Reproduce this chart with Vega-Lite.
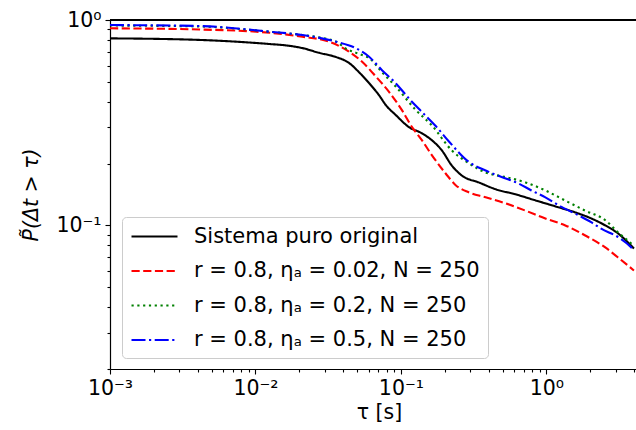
{
  "$schema": "https://vega.github.io/schema/vega-lite/v6.json",
  "width": 526,
  "height": 349,
  "autosize": "none",
  "padding": {"left": 110, "top": 20, "right": 0, "bottom": 61},
  "background": "white",
  "config": {
    "font": "DejaVu Sans",
    "view": {"stroke": null},
    "axis": {"grid": false, "domainColor": "black", "domainWidth": 1.2, "tickColor": "black", "tickWidth": 1.1, "labelColor": "black", "titleColor": "black", "labelFontSize": 20.5, "titleFontSize": 20.5, "titleFontWeight": "normal", "labelFont": "DejaVu Sans", "titleFont": "DejaVu Sans"}
  },
  "data": {"values": [
    {"s": "Sistema puro original", "tau": 0.001, "p": 0.814},
    {"s": "Sistema puro original", "tau": 0.0041, "p": 0.800},
    {"s": "Sistema puro original", "tau": 0.0125, "p": 0.764},
    {"s": "Sistema puro original", "tau": 0.0163, "p": 0.752},
    {"s": "Sistema puro original", "tau": 0.021, "p": 0.730},
    {"s": "Sistema puro original", "tau": 0.0274, "p": 0.692},
    {"s": "Sistema puro original", "tau": 0.0359, "p": 0.660},
    {"s": "Sistema puro original", "tau": 0.0441, "p": 0.617},
    {"s": "Sistema puro original", "tau": 0.0515, "p": 0.557},
    {"s": "Sistema puro original", "tau": 0.0604, "p": 0.493},
    {"s": "Sistema puro original", "tau": 0.0706, "p": 0.431},
    {"s": "Sistema puro original", "tau": 0.0788, "p": 0.385},
    {"s": "Sistema puro original", "tau": 0.0924, "p": 0.344},
    {"s": "Sistema puro original", "tau": 0.1135, "p": 0.301},
    {"s": "Sistema puro original", "tau": 0.1393, "p": 0.281},
    {"s": "Sistema puro original", "tau": 0.163, "p": 0.260},
    {"s": "Sistema puro original", "tau": 0.191, "p": 0.232},
    {"s": "Sistema puro original", "tau": 0.2234, "p": 0.196},
    {"s": "Sistema puro original", "tau": 0.2618, "p": 0.175},
    {"s": "Sistema puro original", "tau": 0.342, "p": 0.162},
    {"s": "Sistema puro original", "tau": 0.448, "p": 0.150},
    {"s": "Sistema puro original", "tau": 0.614, "p": 0.1417},
    {"s": "Sistema puro original", "tau": 0.841, "p": 0.1324},
    {"s": "Sistema puro original", "tau": 1.153, "p": 0.1238},
    {"s": "Sistema puro original", "tau": 1.58, "p": 0.1157},
    {"s": "Sistema puro original", "tau": 2.03, "p": 0.1082},
    {"s": "Sistema puro original", "tau": 2.54, "p": 0.100},
    {"s": "Sistema puro original", "tau": 3.11, "p": 0.0914},
    {"s": "Sistema puro original", "tau": 3.82, "p": 0.0798},
    {"s": "Sistema puro original", "tau": 4.0, "p": 0.0772},

    {"s": "r = 0.8, ηₐ = 0.02, N = 250", "tau": 0.001, "p": 0.911},
    {"s": "r = 0.8, ηₐ = 0.02, N = 250", "tau": 0.0041, "p": 0.899},
    {"s": "r = 0.8, ηₐ = 0.02, N = 250", "tau": 0.0125, "p": 0.867},
    {"s": "r = 0.8, ηₐ = 0.02, N = 250", "tau": 0.021, "p": 0.829},
    {"s": "r = 0.8, ηₐ = 0.02, N = 250", "tau": 0.0321, "p": 0.784},
    {"s": "r = 0.8, ηₐ = 0.02, N = 250", "tau": 0.0441, "p": 0.700},
    {"s": "r = 0.8, ηₐ = 0.02, N = 250", "tau": 0.0541, "p": 0.626},
    {"s": "r = 0.8, ηₐ = 0.02, N = 250", "tau": 0.0675, "p": 0.529},
    {"s": "r = 0.8, ηₐ = 0.02, N = 250", "tau": 0.0828, "p": 0.447},
    {"s": "r = 0.8, ηₐ = 0.02, N = 250", "tau": 0.1016, "p": 0.364},
    {"s": "r = 0.8, ηₐ = 0.02, N = 250", "tau": 0.1189, "p": 0.302},
    {"s": "r = 0.8, ηₐ = 0.02, N = 250", "tau": 0.1393, "p": 0.260},
    {"s": "r = 0.8, ηₐ = 0.02, N = 250", "tau": 0.163, "p": 0.220},
    {"s": "r = 0.8, ηₐ = 0.02, N = 250", "tau": 0.203, "p": 0.179},
    {"s": "r = 0.8, ηₐ = 0.02, N = 250", "tau": 0.238, "p": 0.157},
    {"s": "r = 0.8, ηₐ = 0.02, N = 250", "tau": 0.292, "p": 0.145},
    {"s": "r = 0.8, ηₐ = 0.02, N = 250", "tau": 0.382, "p": 0.137},
    {"s": "r = 0.8, ηₐ = 0.02, N = 250", "tau": 0.524, "p": 0.128},
    {"s": "r = 0.8, ηₐ = 0.02, N = 250", "tau": 0.718, "p": 0.118},
    {"s": "r = 0.8, ηₐ = 0.02, N = 250", "tau": 0.984, "p": 0.108},
    {"s": "r = 0.8, ηₐ = 0.02, N = 250", "tau": 1.35, "p": 0.100},
    {"s": "r = 0.8, ηₐ = 0.02, N = 250", "tau": 1.85, "p": 0.0893},
    {"s": "r = 0.8, ηₐ = 0.02, N = 250", "tau": 2.54, "p": 0.0781},
    {"s": "r = 0.8, ηₐ = 0.02, N = 250", "tau": 3.11, "p": 0.0698},
    {"s": "r = 0.8, ηₐ = 0.02, N = 250", "tau": 4.0, "p": 0.0603},

    {"s": "r = 0.8, ηₐ = 0.2, N = 250", "tau": 0.001, "p": 0.940},
    {"s": "r = 0.8, ηₐ = 0.2, N = 250", "tau": 0.0041, "p": 0.930},
    {"s": "r = 0.8, ηₐ = 0.2, N = 250", "tau": 0.0125, "p": 0.877},
    {"s": "r = 0.8, ηₐ = 0.2, N = 250", "tau": 0.021, "p": 0.845},
    {"s": "r = 0.8, ηₐ = 0.2, N = 250", "tau": 0.0359, "p": 0.784},
    {"s": "r = 0.8, ηₐ = 0.2, N = 250", "tau": 0.0413, "p": 0.730},
    {"s": "r = 0.8, ηₐ = 0.2, N = 250", "tau": 0.0541, "p": 0.675},
    {"s": "r = 0.8, ηₐ = 0.2, N = 250", "tau": 0.0604, "p": 0.653},
    {"s": "r = 0.8, ηₐ = 0.2, N = 250", "tau": 0.0741, "p": 0.557},
    {"s": "r = 0.8, ηₐ = 0.2, N = 250", "tau": 0.0924, "p": 0.473},
    {"s": "r = 0.8, ηₐ = 0.2, N = 250", "tau": 0.1268, "p": 0.364},
    {"s": "r = 0.8, ηₐ = 0.2, N = 250", "tau": 0.163, "p": 0.307},
    {"s": "r = 0.8, ηₐ = 0.2, N = 250", "tau": 0.2234, "p": 0.232},
    {"s": "r = 0.8, ηₐ = 0.2, N = 250", "tau": 0.292, "p": 0.201},
    {"s": "r = 0.8, ηₐ = 0.2, N = 250", "tau": 0.382, "p": 0.181},
    {"s": "r = 0.8, ηₐ = 0.2, N = 250", "tau": 0.524, "p": 0.172},
    {"s": "r = 0.8, ηₐ = 0.2, N = 250", "tau": 0.718, "p": 0.162},
    {"s": "r = 0.8, ηₐ = 0.2, N = 250", "tau": 0.984, "p": 0.148},
    {"s": "r = 0.8, ηₐ = 0.2, N = 250", "tau": 1.35, "p": 0.132},
    {"s": "r = 0.8, ηₐ = 0.2, N = 250", "tau": 1.85, "p": 0.118},
    {"s": "r = 0.8, ηₐ = 0.2, N = 250", "tau": 2.54, "p": 0.106},
    {"s": "r = 0.8, ηₐ = 0.2, N = 250", "tau": 3.11, "p": 0.0924},
    {"s": "r = 0.8, ηₐ = 0.2, N = 250", "tau": 3.82, "p": 0.0817},
    {"s": "r = 0.8, ηₐ = 0.2, N = 250", "tau": 4.0, "p": 0.0790},

    {"s": "r = 0.8, ηₐ = 0.5, N = 250", "tau": 0.001, "p": 0.945},
    {"s": "r = 0.8, ηₐ = 0.5, N = 250", "tau": 0.0041, "p": 0.935},
    {"s": "r = 0.8, ηₐ = 0.5, N = 250", "tau": 0.0125, "p": 0.877},
    {"s": "r = 0.8, ηₐ = 0.5, N = 250", "tau": 0.021, "p": 0.845},
    {"s": "r = 0.8, ηₐ = 0.5, N = 250", "tau": 0.0359, "p": 0.784},
    {"s": "r = 0.8, ηₐ = 0.5, N = 250", "tau": 0.0492, "p": 0.728},
    {"s": "r = 0.8, ηₐ = 0.5, N = 250", "tau": 0.0604, "p": 0.662},
    {"s": "r = 0.8, ηₐ = 0.5, N = 250", "tau": 0.0741, "p": 0.570},
    {"s": "r = 0.8, ηₐ = 0.5, N = 250", "tau": 0.0924, "p": 0.491},
    {"s": "r = 0.8, ηₐ = 0.5, N = 250", "tau": 0.1135, "p": 0.415},
    {"s": "r = 0.8, ηₐ = 0.5, N = 250", "tau": 0.1393, "p": 0.357},
    {"s": "r = 0.8, ηₐ = 0.5, N = 250", "tau": 0.174, "p": 0.304},
    {"s": "r = 0.8, ηₐ = 0.5, N = 250", "tau": 0.213, "p": 0.257},
    {"s": "r = 0.8, ηₐ = 0.5, N = 250", "tau": 0.292, "p": 0.204},
    {"s": "r = 0.8, ηₐ = 0.5, N = 250", "tau": 0.382, "p": 0.185},
    {"s": "r = 0.8, ηₐ = 0.5, N = 250", "tau": 0.492, "p": 0.172},
    {"s": "r = 0.8, ηₐ = 0.5, N = 250", "tau": 0.643, "p": 0.160},
    {"s": "r = 0.8, ηₐ = 0.5, N = 250", "tau": 0.789, "p": 0.148},
    {"s": "r = 0.8, ηₐ = 0.5, N = 250", "tau": 0.984, "p": 0.137},
    {"s": "r = 0.8, ηₐ = 0.5, N = 250", "tau": 1.27, "p": 0.123},
    {"s": "r = 0.8, ηₐ = 0.5, N = 250", "tau": 1.66, "p": 0.112},
    {"s": "r = 0.8, ηₐ = 0.5, N = 250", "tau": 2.03, "p": 0.1037},
    {"s": "r = 0.8, ηₐ = 0.5, N = 250", "tau": 2.38, "p": 0.0964},
    {"s": "r = 0.8, ηₐ = 0.5, N = 250", "tau": 3.11, "p": 0.0877},
    {"s": "r = 0.8, ηₐ = 0.5, N = 250", "tau": 3.82, "p": 0.0783},
    {"s": "r = 0.8, ηₐ = 0.5, N = 250", "tau": 4.0, "p": 0.0755}
  ]},
  "layer": [
    {
      "mark": {"type": "line", "strokeWidth": 2.1, "clip": true, "interpolate": "monotone"},
      "encoding": {
        "x": {
          "field": "tau", "type": "quantitative",
          "scale": {"type": "log", "domain": [0.001, 4.13], "nice": false},
          "axis": {
            "title": "τ [s]",
            "titlePadding": 4,
            "titleX": 269,
            "labelPadding": 4,
            "values": [0.001, 0.002, 0.003, 0.004, 0.005, 0.006, 0.007, 0.008, 0.009, 0.01, 0.02, 0.03, 0.04, 0.05, 0.06, 0.07, 0.08, 0.09, 0.1, 0.2, 0.3, 0.4, 0.5, 0.6, 0.7, 0.8, 0.9, 1, 2, 3, 4],
            "labelExpr": "datum.value == 0.001 ? '10⁻³' : datum.value == 0.01 ? '10⁻²' : datum.value == 0.1 ? '10⁻¹' : datum.value == 1 ? '10⁰' : ''",
            "tickSize": {"condition": {"test": "datum.value == 0.001 || datum.value == 0.01 || datum.value == 0.1 || datum.value == 1", "value": 5}, "value": 3},
            "labelFlush": false,
            "labelOverlap": false
          }
        },
        "y": {
          "field": "p", "type": "quantitative",
          "scale": {"type": "log", "domain": [0.02, 1], "nice": false},
          "axis": {
            "title": "P̃(Δt > τ)",
            "titleFontStyle": "italic",
            "titlePadding": 14,
            "labelPadding": 4,
            "values": [0.02, 0.03, 0.04, 0.05, 0.06, 0.07, 0.08, 0.09, 0.1, 0.2, 0.3, 0.4, 0.5, 0.6, 0.7, 0.8, 0.9, 1],
            "labelExpr": "datum.value == 0.1 ? '10⁻¹' : datum.value == 1 ? '10⁰' : ''",
            "tickSize": {"condition": {"test": "datum.value == 0.1 || datum.value == 1", "value": 5}, "value": 3},
            "labelFlush": false,
            "labelOverlap": false
          }
        },
        "color": {
          "field": "s", "type": "nominal",
          "scale": {
            "domain": ["Sistema puro original", "r = 0.8, ηₐ = 0.02, N = 250", "r = 0.8, ηₐ = 0.2, N = 250", "r = 0.8, ηₐ = 0.5, N = 250"],
            "range": ["#000000", "#ff0000", "#008000", "#0000ff"]
          },
          "legend": {
            "title": null,
            "orient": "none",
            "legendX": 12,
            "legendY": 197,
            "symbolType": "M-1,0H3.6",
            "symbolSize": 400,
            "symbolStrokeWidth": 2.1,
            "labelFontSize": 21,
            "labelFont": "DejaVu Sans",
            "labelColor": "black",
            "labelOffset": 41,
            "rowPadding": 12.5,
            "padding": 8,
            "fillColor": "rgba(255,255,255,0.8)",
            "strokeColor": "#cccccc",
            "cornerRadius": 4,
            "labelLimit": 0
          }
        },
        "strokeDash": {
          "field": "s", "type": "nominal",
          "scale": {
            "domain": ["Sistema puro original", "r = 0.8, ηₐ = 0.02, N = 250", "r = 0.8, ηₐ = 0.2, N = 250", "r = 0.8, ηₐ = 0.5, N = 250"],
            "range": [[1, 0], [8.2, 3.5], [2.2, 3.6], [14, 3.5, 2.2, 3.5]]
          },
          "legend": null
        }
      }
    },
    {
      "mark": {"type": "rule", "color": "black", "strokeWidth": 1.2},
      "encoding": {"y": {"datum": 1}}
    }
  ]
}
